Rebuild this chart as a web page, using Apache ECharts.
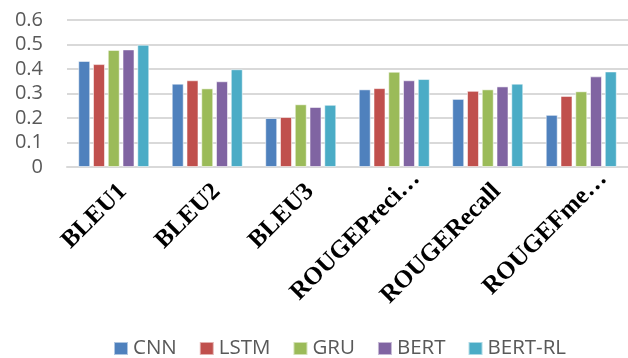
<!DOCTYPE html>
<html>
<head>
<meta charset="utf-8">
<script src="https://cdn.jsdelivr.net/npm/echarts@6/dist/echarts.min.js"></script>
<style>
  html, body { margin: 0; padding: 0; background: #fff; }
  #chart { width: 628px; height: 358px; }
</style>
</head>
<body>
<div id="chart"></div>
<script>
// Evaluation metrics per model
const categories = ['BLEU1', 'BLEU2', 'BLEU3', 'ROUGEPrecision', 'ROUGERecall', 'ROUGEFmeasure'];
const tickLabels = ['BLEU1', 'BLEU2', 'BLEU3', 'ROUGEPreci\u2026', 'ROUGERecall', 'ROUGEFme\u2026'];
const yTicks = [0, 0.1, 0.2, 0.3, 0.4, 0.5, 0.6];

const cnn    = [0.433, 0.340, 0.200, 0.317, 0.278, 0.213];
const lstm   = [0.420, 0.354, 0.204, 0.322, 0.311, 0.290];
const gru    = [0.478, 0.321, 0.256, 0.389, 0.317, 0.309];
const bert   = [0.480, 0.350, 0.245, 0.354, 0.329, 0.370];
const bertRL = [0.499, 0.399, 0.254, 0.359, 0.340, 0.390];

const seriesNames = ['CNN', 'LSTM', 'GRU', 'BERT', 'BERT-RL'];
const seriesData = [cnn, lstm, gru, bert, bertRL];
const colors = ['#4F81BD', '#C0504D', '#9BBB59', '#8064A2', '#4BACC6'];

// Rotated labels are nudged along their baseline; truncated ones keep
// their anchor at the text before the ellipsis
const xData = categories.map((c, i) => ({
  value: c,
  textStyle: { padding: [0, tickLabels[i].endsWith('\u2026') ? -31 : -13, 0, 0] }
}));

const chart = echarts.init(document.getElementById('chart'), null, { renderer: 'canvas' });

chart.setOption({
  animation: false,
  color: colors,
  grid: { left: 67, right: -12, top: 20, bottom: 191, containLabel: false },
  legend: {
    data: seriesNames,
    left: 108,
    top: 333,
    icon: 'rect',
    itemWidth: 14,
    itemHeight: 13,
    itemGap: 22,
    textStyle: { fontFamily: 'Open Sans', fontSize: 20.5, color: '#595959' }
  },
  xAxis: {
    type: 'category',
    data: xData,
    axisLine: { show: true, lineStyle: { color: '#d9d9d9', width: 2 } },
    axisTick: { show: false },
    axisLabel: {
      interval: 0,
      rotate: 45,
      margin: 30,
      align: 'right',
      verticalAlign: 'top',
      fontFamily: 'Liberation Serif',
      fontWeight: 'bold',
      fontSize: 25,
      color: '#000',
      formatter: (v, i) => tickLabels[i]
    }
  },
  yAxis: {
    type: 'value',
    min: yTicks[0],
    max: yTicks[yTicks.length - 1],
    interval: 0.1,
    axisLine: { show: false },
    axisTick: { show: false },
    splitLine: { lineStyle: { color: '#d9d9d9', width: 2 } },
    axisLabel: {
      margin: 24,
      fontFamily: 'Open Sans',
      fontSize: 20,
      color: '#595959',
      formatter: v => (v === 0 ? '0' : String(Math.round(v * 10) / 10))
    }
  },
  series: seriesNames.map((name, k) => ({
    name,
    type: 'bar',
    data: seriesData[k],
    barWidth: 12,
    barGap: '23%',
    itemStyle: { borderColor: 'rgba(255,255,255,0.55)', borderWidth: 1 }
  }))
});
</script>
</body>
</html>
